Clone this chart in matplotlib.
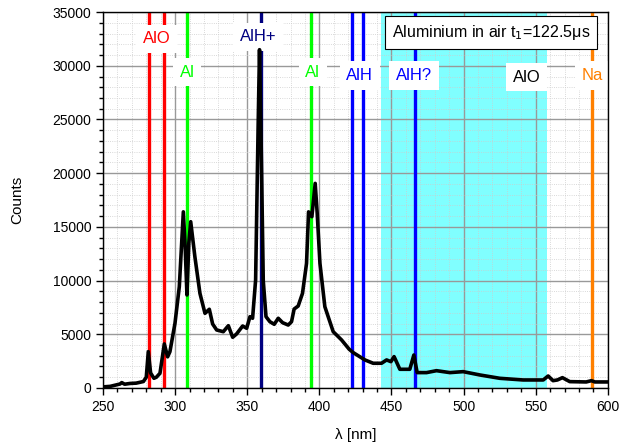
import matplotlib.pyplot as plt
from matplotlib.ticker import MultipleLocator

plt.rcParams['font.family'] = ['Liberation Sans', 'DejaVu Sans']

# spectrum
wl = [250, 255, 261.8, 263, 265, 268.7, 273, 278, 280, 281.4, 283, 285.3, 287, 289.5,
      292.5, 294.8, 296.4, 299.9, 302.9, 305.7, 307, 308.2, 309.5, 310.8, 313.7, 317.2,
      320.7, 323.7, 326, 328.8, 333.4, 336.9, 339.9, 342.6, 346.8, 349.6, 351.9, 353.7,
      355.8, 357.5, 358.5, 359.5, 361.1, 363, 365.7, 368.7, 371.5, 374.5, 378.4, 380.7,
      382.5, 385.3, 388.3, 391.1, 392.5, 394.8, 397.1, 398.5, 400.4, 403.8, 406.1,
      409.6, 415.4, 420.7, 423.5, 431.6, 437.3, 443.1, 446.6, 449.6, 451.8, 455.8,
      462.7, 465.5, 467.8, 474.3, 481.2, 490.5, 499.7, 511.3, 525.1, 541.3, 555.2,
      558.6, 562, 565, 568.5, 573.6, 585, 588.6, 591, 600]
counts = [100, 150, 370, 500, 350, 420, 450, 600, 1000, 3380, 1400, 900, 1000, 1370,
          4100, 2900, 3380, 6020, 9430, 16400, 13000, 8660, 13500, 15480, 12220, 8810,
          6950, 7330, 5960, 5400, 5240, 5800, 4720, 5030, 5770, 5560, 6640, 6490,
          10050, 24000, 31500, 24000, 10000, 6640, 6170, 5930, 6490, 6080, 5860, 6170,
          7350, 7630, 8810, 11600, 16400, 15950, 19050, 16260, 11600, 7570, 6640,
          5240, 4470, 3600, 3290, 2610, 2300, 2300, 2610, 2450, 2920, 1740,
          1740, 3070, 1430, 1430, 1610, 1430, 1520, 1210, 900, 745, 745,
          1117, 680, 745, 960, 590, 560, 680, 560, 560]

# marker lines and labels
line_pos = [282, 292.5, 308.2, 359.5, 394.4, 422.5, 430, 466, 589]
line_col = ['#ff0000', '#ff0000', '#00ff00', '#000080', '#00ff00', '#0000ff', '#0000ff', '#0000ff', '#ff8000']
lab_text = ['AlO', 'Al', 'AlH+', 'Al', 'AlH', 'AlH?', 'AlO', 'Na']
lab_x = [287.3, 308.2, 357.4, 395.5, 428, 465.5, 543.8, 589]
lab_y = [32500, 29400, 32700, 29400, 29100, 29100, 28950, 29100]
lab_col = ['#ff0000', '#00ff00', '#000080', '#00ff00', '#0000ff', '#0000ff', '#000000', '#ff8000']
band = [443, 558]

fig = plt.figure(figsize=(6.19, 4.48), dpi=100)
ax = fig.add_axes([0.1664, 0.134, 0.8156, 0.839])

ax.axvspan(band[0], band[1], color='#80ffff', lw=0, zorder=1)
for xp, c in zip(line_pos, line_col):
    ax.axvline(xp, color=c, lw=2.4, zorder=2)
ax.plot(wl, counts, color='black', lw=2.6, zorder=4, solid_joinstyle='round')

for t, xp, yp, c in zip(lab_text, lab_x, lab_y, lab_col):
    ax.text(xp, yp, t, color=c, fontsize=12, ha='center', va='center', zorder=3,
            bbox=dict(facecolor='white', edgecolor='none', boxstyle='square,pad=0.4'))

ax.text(0.965, 0.945, 'Aluminium in air t$_1$=122.5μs', transform=ax.transAxes,
        ha='right', va='center', fontsize=11.5, zorder=5,
        bbox=dict(facecolor='white', edgecolor='black', lw=0.8, pad=5))

ax.set_xlim(250, 600)
ax.set_ylim(0, 35000)
ax.xaxis.set_major_locator(MultipleLocator(50))
ax.xaxis.set_minor_locator(MultipleLocator(10))
ax.yaxis.set_major_locator(MultipleLocator(5000))
ax.yaxis.set_minor_locator(MultipleLocator(1000))
ax.set_axisbelow('line')
ax.grid(which='major', color='#999999', lw=1)
ax.grid(which='minor', color='#cccccc', lw=0.6, ls=':')
ax.tick_params(which='major', direction='out', length=5, width=1, labelsize=10)
ax.tick_params(which='minor', direction='out', length=3, width=1)
for s in ax.spines.values():
    s.set_linewidth(1)
    s.set_zorder(6)

ax.set_xlabel('λ [nm]', fontsize=11, labelpad=10)
ax.set_ylabel('Counts', fontsize=11, labelpad=20)

fig.savefig('out.png', dpi=100)
